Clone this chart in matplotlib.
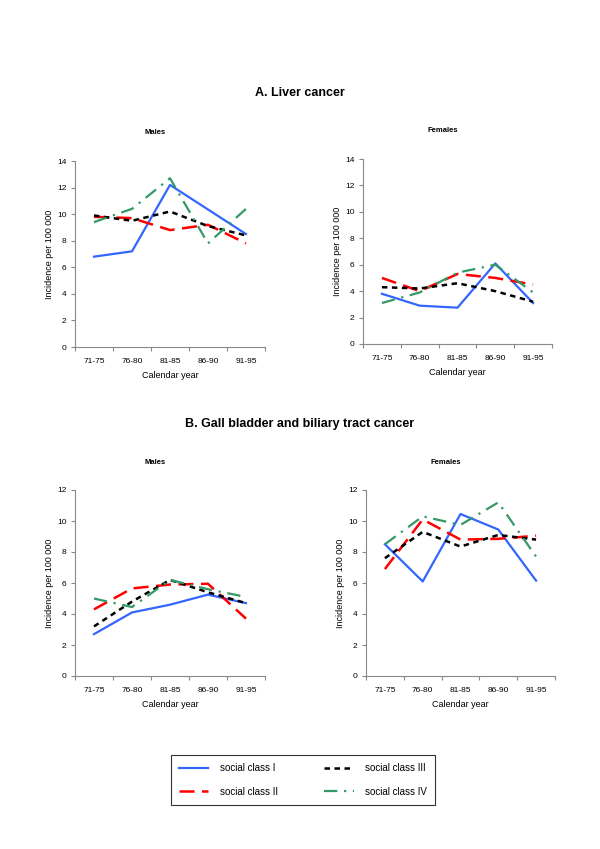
import matplotlib
matplotlib.use("Agg")
import matplotlib.pyplot as plt
from matplotlib.lines import Line2D

plt.rcParams['font.family'] = ['Liberation Sans', 'DejaVu Sans']

# Données
periods = ["71-75", "76-80", "81-85", "86-90", "91-95"]
class_labels = ["social class I", "social class II", "social class III", "social class IV"]

liver_m_I = [6.8, 7.2, 12.2, 10.35, 8.5]
liver_m_II = [9.8, 9.7, 8.8, 9.2, 7.8]
liver_m_III = [9.9, 9.5, 10.2, 9.1, 8.4]
liver_m_IV = [9.4, 10.4, 12.7, 7.8, 10.4]

liver_f_I = [3.8, 2.9, 2.75, 6.1, 3.1]
liver_f_II = [5.0, 4.0, 5.3, 5.0, 4.5]
liver_f_III = [4.3, 4.2, 4.6, 4.0, 3.2]
liver_f_IV = [3.1, 3.9, 5.4, 6.0, 3.9]

gall_m_I = [2.7, 4.1, 4.6, 5.25, 4.7]
gall_m_II = [4.3, 5.65, 5.9, 5.95, 3.7]
gall_m_III = [3.2, 4.8, 6.2, 5.4, 4.7]
gall_m_IV = [5.0, 4.45, 6.2, 5.6, 5.1]

gall_f_I = [8.5, 6.1, 10.45, 9.45, 6.15]
gall_f_II = [6.9, 10.1, 8.8, 8.85, 9.05]
gall_f_III = [7.6, 9.3, 8.35, 9.1, 8.8]
gall_f_IV = [8.5, 10.3, 9.75, 11.2, 7.7]

styles = [
    dict(color='#3366FF', linestyle='-', linewidth=1.6),
    dict(color='#FF0000', linestyle=(0, (6, 3)), linewidth=1.8),
    dict(color='black', linestyle=(0, (2.2, 1.8)), linewidth=1.8),
    dict(color='#339966', linestyle=(0, (6, 3, 1, 3)), linewidth=1.6),
]

W, H = 600, 849
fig = plt.figure(figsize=(6, 8.49), dpi=100)


def make_ax(x0, x1, ytop, ybot):
    return fig.add_axes([x0 / W, 1 - ybot / H, (x1 - x0) / W, (ybot - ytop) / H])


def panel(ax, series, ymax):
    x = range(len(periods))
    for vals, st in zip(series, styles):
        ax.plot(x, vals, **st)
    ax.set_xlim(-0.5, len(periods) - 0.5)
    ax.set_ylim(0, ymax)
    ax.set_yticks(range(0, ymax + 1, 2))
    ax.set_xticks([i - 0.5 for i in range(len(periods) + 1)])
    ax.set_xticklabels([])
    ax.set_xticks(list(x), minor=True)
    ax.set_xticklabels(periods, minor=True)
    ax.tick_params(axis='x', which='minor', length=0, labelsize=6, pad=8)
    ax.tick_params(axis='x', which='major', length=3, color='#888888')
    ax.tick_params(axis='y', length=3, color='#888888', labelsize=6, pad=3)
    for s in ['top', 'right']:
        ax.spines[s].set_visible(False)
    for s in ['left', 'bottom']:
        ax.spines[s].set_color('#888888')
        ax.spines[s].set_linewidth(0.8)
    ax.set_xlabel("Calendar year", fontsize=6.5, labelpad=4)
    ax.set_ylabel("Incidence per 100 000", fontsize=6.5, labelpad=2)


def subtitle(x, y, s):
    fig.text(x / W, 1 - y / H, s, ha='center', va='center', fontsize=5.5,
             fontweight='bold')


ax1 = make_ax(75, 265, 161, 347)
panel(ax1, [liver_m_I, liver_m_II, liver_m_III, liver_m_IV], 14)
ax2 = make_ax(363, 552, 159, 344)
panel(ax2, [liver_f_I, liver_f_II, liver_f_III, liver_f_IV], 14)
ax3 = make_ax(75, 265, 490, 676)
panel(ax3, [gall_m_I, gall_m_II, gall_m_III, gall_m_IV], 12)
ax4 = make_ax(366, 555, 490, 676)
panel(ax4, [gall_f_I, gall_f_II, gall_f_III, gall_f_IV], 12)

subtitle(155, 133, "Males")
subtitle(443, 131, "Females")
subtitle(155, 462, "Males")
subtitle(446, 462, "Females")

fig.text(300 / W, 1 - 93 / H, "A. Liver cancer", ha='center', va='center',
         fontsize=9, fontweight='bold')
fig.text(300 / W, 1 - 424 / H, "B. Gall bladder and biliary tract cancer",
         ha='center', va='center', fontsize=9, fontweight='bold')

handles = [Line2D([], [], **st) for st in styles]
leg = fig.legend(handles, class_labels,
                 ncol=2, loc='center', bbox_to_anchor=(303 / W, 1 - 780 / H),
                 fontsize=7, frameon=True, fancybox=False, edgecolor='black',
                 handlelength=3, columnspacing=4.8, labelspacing=1.4,
                 borderpad=0.8, handletextpad=1.2)
leg.get_frame().set_linewidth(0.8)

fig.savefig("out.png", dpi=100)
